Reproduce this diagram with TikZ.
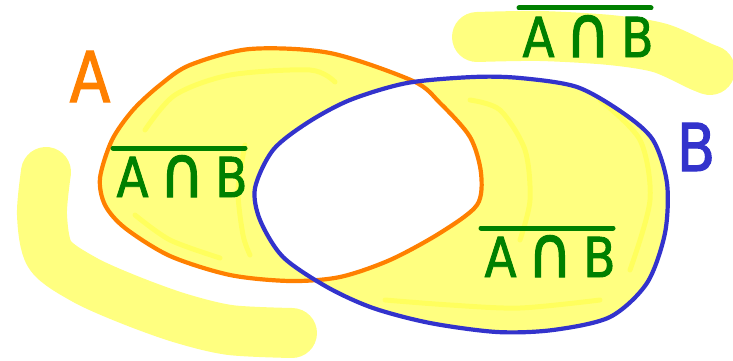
\documentclass[tikz,border=0pt]{standalone}
\usepackage{fontspec}
\newfontfamily\hand[FakeStretch=0.85,FakeBold=1.6]{DejaVu Sans}
\definecolor{hlyellow}{RGB}{255,255,128}
\definecolor{brightyellow}{RGB}{255,255,60}
\definecolor{penorange}{RGB}{255,128,0}
\definecolor{penblue}{RGB}{51,51,204}
\definecolor{pengreen}{RGB}{0,128,0}
\def\pathA{plot[smooth cycle] coordinates {(100,178) (112,140) (133,110) (160,85) (190,65) (250,49) (330,53) (413,81) (440,103) (470,137) (481,173) (477,205) (440,233) (390,260) (340,277) (290,281) (230,275) (170,256) (125,228) (105,205)}}
\def\pathB{plot[smooth cycle] coordinates {(255,188) (260,220) (283,257) (327,287) (373,308) (430,323) (497,332) (553,330) (610,317) (647,283) (665,233) (667,183) (653,140) (623,113) (577,87) (520,78) (473,77) (407,83) (350,100) (307,123) (273,150)}}
\newcommand\handcap{{\fontsize{72}{72}\selectfont ∩}}
\tikzset{
  highlight/.style={hlyellow, line width=50pt, line cap=round, line join=round},
  accent/.style={brightyellow, opacity=0.5, line width=5pt, line cap=round, line join=round},
  outline/.style={line width=4.2pt, line join=round},
  setlabel/.style={font=\hand\fontsize{70}{70}\selectfont, inner sep=0pt, anchor=base},
  complabel/.style={text=pengreen, font=\hand\fontsize{55}{55}\selectfont, inner sep=0pt, anchor=base},
  bar/.style={pengreen, line width=5pt, line cap=round}
}
\begin{document}
\begin{tikzpicture}[x=1pt,y=-1pt]
\useasboundingbox (0,0) rectangle (733,361);
% highlighter strokes outside the sets
\draw[highlight] plot[smooth] coordinates {(46,172) (42,215) (50,255) (85,280) (130,300) (180,318) (230,330) (292,333)};
\draw[highlight] plot[smooth] coordinates {(477,37) (540,36) (610,40) (660,48) (700,66) (710,70)};
% fills
\fill[hlyellow] \pathA;
\fill[hlyellow] \pathB;
\begin{scope}
  \clip \pathA;
  \fill[white] \pathB;
\end{scope}
% brighter hand-fill strokes
\draw[accent] plot[smooth] coordinates {(145,130) (175,95) (230,75) (310,70) (335,82)};
\draw[accent] plot[smooth] coordinates {(245,145) (238,190) (243,235) (250,255)};
\draw[accent] plot[smooth] coordinates {(135,215) (170,240) (220,258)};
\draw[accent] plot[smooth] coordinates {(470,100) (500,110) (525,150) (530,200) (520,240)};
\draw[accent] plot[smooth] coordinates {(600,100) (640,140) (650,200) (630,270)};
\draw[accent] plot[smooth] coordinates {(385,300) (450,305) (520,308) (600,300)};
% outlines
\draw[outline, penorange] \pathA;
\draw[outline, penblue] \pathB;
% set labels
\node[setlabel, text=penorange] (labA) at (90,102) {A};
\node[setlabel, text=penblue, font=\hand\fontsize{66}{66}\selectfont] (labB) at (696,171) {B};
% complement labels
\node[complabel] (c1) at (182,197) {A\hspace{11pt}\handcap\hspace{11pt}B};
\node[complabel] (c2) at (588,57) {A\hspace{11pt}\handcap\hspace{11pt}B};
\node[complabel] (c3) at (550,277) {A\hspace{11pt}\handcap\hspace{11pt}B};
\foreach \n in {c1,c2,c3}
  \draw[bar] ([shift={(-69,-49)}]\n.base) -- ([shift={(63,-49)}]\n.base);
\end{tikzpicture}
\end{document}
